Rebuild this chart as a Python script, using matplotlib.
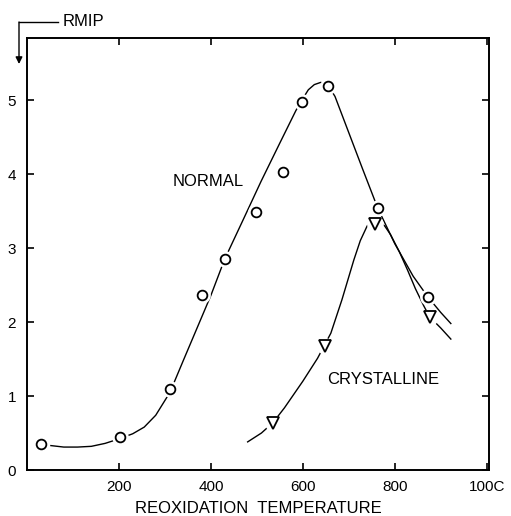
import matplotlib
matplotlib.use("Agg")
import matplotlib.pyplot as plt

plt.rcParams['font.family'] = ['Liberation Sans', 'DejaVu Sans']

# measured points
normal_x = [30, 202, 311, 380, 430, 498, 557, 598, 654, 763, 872]
normal_y = [0.35, 0.45, 1.09, 2.36, 2.85, 3.49, 4.03, 4.97, 5.19, 3.54, 2.34]
cryst_x = [535, 648, 757, 876]
cryst_y = [0.64, 1.68, 3.32, 2.07]

# hand-drawn fitted curves
normal_curve_x = [52, 80, 110, 140, 170, 200, 230, 255, 280, 311, 340, 370, 400, 430,
                  470, 509, 550, 585, 600, 612, 625, 639, 650, 660, 670, 700, 730,
                  763, 800, 840, 872, 900, 922]
normal_curve_y = [0.33, 0.31, 0.31, 0.32, 0.36, 0.42, 0.49, 0.58, 0.74, 1.05, 1.48, 1.92, 2.36, 2.85,
                  3.38, 3.90, 4.42, 4.86, 5.02, 5.14, 5.21, 5.24, 5.22, 5.15, 5.05, 4.56, 4.07,
                  3.54, 3.06, 2.62, 2.34, 2.13, 1.98]
cryst_curve_x = [480, 510, 535, 560, 580, 600, 632, 661, 685, 711, 725, 740, 752, 765,
                 778, 791, 810, 828, 845, 863, 876, 900, 922]
cryst_curve_y = [0.38, 0.50, 0.64, 0.84, 1.02, 1.20, 1.51, 1.85, 2.30, 2.84, 3.10, 3.30, 3.36, 3.36,
                 3.30, 3.18, 2.95, 2.70, 2.45, 2.22, 2.07, 1.92, 1.77]

xticks = [200, 400, 600, 800, 1000]
xtick_labels = ['200', '400', '600', '800', '100C']
yticks = [0, 1, 2, 3, 4, 5]

fig = plt.figure(figsize=(5.11, 5.16), dpi=100)
ax = fig.add_axes([27/511, 1-470/516, (489-27)/511, (470-38)/516])
ax.set_xlim(0, 1005)
ax.set_ylim(0, 5.84)

ax.plot(normal_curve_x, normal_curve_y, color='black', lw=1.0, zorder=2)
ax.plot(cryst_curve_x, cryst_curve_y, color='black', lw=1.0, zorder=2)

# white halos produce the gaps around the markers
ax.plot(normal_x, normal_y, 'o', ms=12, mfc='white', mec='none', zorder=3)
ax.plot(cryst_x, cryst_y, 'o', ms=12, mfc='white', mec='none', zorder=3)
ax.plot(normal_x, normal_y, 'o', ms=7, mfc='white', mec='black', mew=1.3, zorder=4)
ax.plot(cryst_x, cryst_y, 'v', ms=8, mfc='white', mec='black', mew=1.3, zorder=4)

ax.text(472, 3.9, 'NORMAL', ha='right', va='center', fontsize=12)
ax.text(896, 1.22, 'CRYSTALLINE', ha='right', va='center', fontsize=12)

ax.set_xticks(xticks)
ax.set_xticklabels(xtick_labels)
ax.set_yticks(yticks)
ax.tick_params(direction='in', length=5, width=1.2, labelsize=11,
               top=True, right=True, pad=7)
ax.tick_params(axis='y', pad=8)
for s in ax.spines.values():
    s.set_linewidth(1.4)

ax.set_xlabel('REOXIDATION  TEMPERATURE', fontsize=12, labelpad=5)

# RMIP axis label with arrow
fig.add_artist(plt.Line2D([19/511, 58/511], [1-22/516, 1-22/516], color='black', lw=1.0))
ax.annotate('', xy=(19/511, 1-64/516), xytext=(19/511, 1-22/516),
            xycoords='figure fraction', textcoords='figure fraction',
            arrowprops=dict(arrowstyle='-|>', color='black', lw=1.0, mutation_scale=10,
                            shrinkA=0, shrinkB=0))
fig.text(63/511, 1-22/516, 'RMIP', ha='left', va='center', fontsize=12)

fig.savefig('out.png', dpi=100)
